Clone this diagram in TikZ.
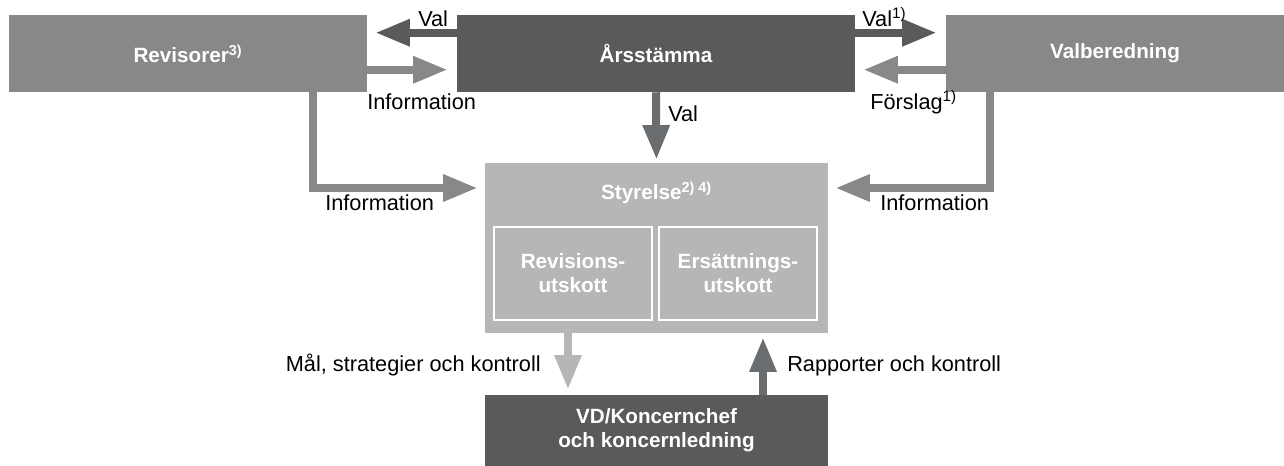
\documentclass[tikz,border=0pt]{standalone}
\usepackage{fontspec}
\setmainfont{Liberation Sans}
\usetikzlibrary{arrows.meta,positioning}
\definecolor{clrDark}{HTML}{5A5A58}
\definecolor{clrMid}{HTML}{888888}
\definecolor{clrLight}{HTML}{B5B7B4}
\definecolor{clrArrow}{HTML}{6A6D70}
\tikzstyle{boxtext} = [rectangle, align=center, text=white, inner sep=0pt, font=\bfseries\fontsize{15.5}{18}\selectfont]
\tikzstyle{topbox} = [boxtext, minimum height=57.75pt]
\tikzstyle{committee} = [boxtext, draw=white, line width=1.5pt, fill=clrLight, minimum width=118.5pt, minimum height=69.75pt]
\tikzstyle{flowtext} = [inner sep=0pt, text height=1.5ex, text depth=.25ex, font=\fontsize{16.3}{19}\selectfont]
\tikzstyle{flow} = [->, line width=6pt]

\begin{document}
\begin{tikzpicture}[x=0.75pt, y=-0.75pt, >={Triangle[length=26pt, width=19pt]}]
\useasboundingbox (0,0) rectangle (1284,466);
   \node (Revisorer) at (188, 53.5) [topbox, fill=clrMid, minimum width=268.5pt] {Revisorer\textsuperscript{3)}};
   \node (Arsstamma) at (656, 53.5) [topbox, fill=clrDark, minimum width=298.5pt] {Årsstämma};
   \node (Valberedning) at (1115, 53.5) [topbox, fill=clrMid, minimum width=253.5pt] {Valberedning};

   \node (Styrelse) at (656.5, 248) [rectangle, fill=clrLight, minimum width=257.25pt, minimum height=127.5pt] {};
   \node (StyrelseTitle) at (656.5, 193) [boxtext] {Styrelse\textsuperscript{2) 4)}};
   \node (RevUtskott) at (573, 273.5) [committee] {Revisions-\\utskott};
   \node (ErsUtskott) at (738, 273.5) [committee] {Ersättnings-\\utskott};

   \node (VD) at (656.5, 430.5) [boxtext, fill=clrDark, minimum width=257.25pt, minimum height=53.25pt] {VD/Koncernchef\\och koncernledning};

   % top row
   \draw[flow, clrDark, shorten >=6pt] ([yshift=-13.5pt]Arsstamma.north west) -- ([yshift=-13.5pt]Revisorer.north east);
   \draw[flow, clrMid, shorten >=6.75pt] ([yshift=-41.25pt]Revisorer.north east) -- ([yshift=-41.25pt]Arsstamma.north west);
   \draw[flow, clrDark, shorten >=6.75pt] ([yshift=-13.5pt]Arsstamma.north east) -- ([yshift=-13.5pt]Valberedning.north west);
   \draw[flow, clrMid, shorten >=6pt] ([yshift=-41.25pt]Valberedning.north west) -- ([yshift=-41.25pt]Arsstamma.north east);

   % to the board
   \draw[flow, clrArrow, shorten >=2.25pt] (Arsstamma.south) -- (Styrelse.north);
   \draw[flow, clrMid, shorten >=5.25pt] ([xshift=93.75pt]Revisorer.south) |- ([yshift=45pt]Styrelse.west);
   \draw[flow, clrMid, shorten >=5.25pt] ([xshift=-93.75pt]Valberedning.south) |- ([yshift=45pt]Styrelse.east);

   % board and management
   \draw[flow, clrLight, shorten >=3.75pt] ([xshift=-66.4pt]Styrelse.south) -- ([xshift=-66.4pt]VD.north);
   \draw[flow, clrArrow, shorten >=3pt] ([xshift=79.9pt]VD.north) -- ([xshift=79.9pt]Styrelse.south);

   \node (ValLeft) at (418, 22) [flowtext, anchor=west] {Val};
   \node (InfoTop) at (367, 105.5) [flowtext, anchor=west] {Information};
   \node (ValRight) at (862, 22) [flowtext, anchor=west] {Val\textsuperscript{1)}};
   \node (Forslag) at (870, 105.5) [flowtext, anchor=west] {Förslag\textsuperscript{1)}};
   \node (ValDown) at (668, 117.5) [flowtext, anchor=west] {Val};
   \node (InfoLeft) at (325, 206) [flowtext, anchor=west] {Information};
   \node (InfoRight) at (880, 206) [flowtext, anchor=west] {Information};
   \node (Mal) at (541, 367.5) [flowtext, anchor=east] {Mål, strategier och kontroll};
   \node (Rapporter) at (787, 367.5) [flowtext, anchor=west] {Rapporter och kontroll};

\end{tikzpicture}
\end{document}
